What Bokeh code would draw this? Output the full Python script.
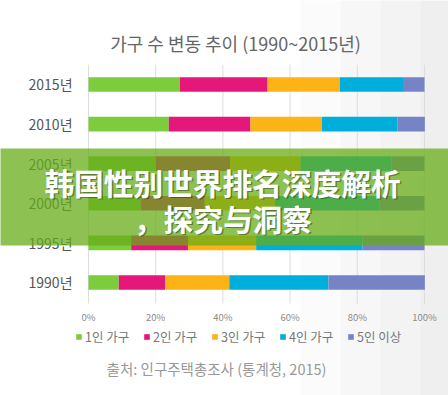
from bokeh.plotting import figure
from bokeh.models import (Range1d, Label, Legend, LegendItem, BoxAnnotation, ColumnDataSource)
from bokeh.core.properties import value
from bokeh.embed import file_html
from bokeh.resources import INLINE

# ---- data ----
years = ["1990년", "1995년", "2000년", "2005년", "2010년", "2015년"]
one_person = [9.0, 12.7, 15.5, 20.0, 23.9, 27.2]
two_person = [13.8, 16.9, 19.1, 22.2, 24.3, 26.1]
three_person = [19.1, 20.3, 20.9, 20.9, 21.3, 21.5]
four_person = [29.5, 31.7, 31.1, 27.0, 22.5, 18.8]
five_plus = [28.7, 18.4, 13.4, 9.9, 8.1, 6.4]
series_names = ["1인 가구", "2인 가구", "3인 가구", "4인 가구", "5인 이상"]
series_colors = ["#7ccc3c", "#e5177a", "#fbb315", "#00aedb", "#7683c4"]
x_ticks = [0, 20, 40, 60, 80, 100]
x_tick_labels = ["0%", "20%", "40%", "60%", "80%", "100%"]
title_text = "가구 수 변동 추이 (1990~2015년)"
source_text = "출처: 인구주택총조사 (통계청, 2015)"
banner_line1 = "韩国性别世界排名深度解析"
banner_line2 = "，探究与洞察"

KR = "Noto Sans CJK KR"
SC = "Noto Sans CJK SC"

pos = list(range(len(years)))  # row positions, bottom (1990) to top (2015)
keys = ["s1", "s2", "s3", "s4", "s5"]
src = ColumnDataSource(dict(pos=pos, year=years, s1=one_person, s2=two_person,
                            s3=three_person, s4=four_person, s5=five_plus))

p = figure(width=448, height=395, output_backend="svg", toolbar_location=None,
           x_range=Range1d(-26.19, 107.14), y_range=Range1d(-2.854, 7.121),
           x_axis_location=None, y_axis_location=None,
           min_border=0, min_border_left=0, min_border_right=0,
           min_border_top=0, min_border_bottom=0)
p.outline_line_color = None
p.background_fill_color = "white"
p.border_fill_color = "white"
p.grid.visible = False

# soft grey shading toward the right edge
for lx in [63.1, 75.0, 86.9, 98.8]:
    p.add_layout(BoxAnnotation(left=lx, right=120, top=10, bottom=-10, fill_color="black",
                               fill_alpha=0.016, line_color=None, level="underlay"))

# vertical grid lines at the x ticks
gsrc = ColumnDataSource(dict(x=x_ticks, y0=[-0.53] * len(x_ticks), y1=[5.5] * len(x_ticks),
                             lab=x_tick_labels, ly=[-0.884] * len(x_ticks)))
p.segment(x0="x", x1="x", y0="y0", y1="y1", source=gsrc, line_color="#dddddd", line_width=1)

renderers = p.hbar_stack(keys, y="pos", height=0.37, color=series_colors, source=src,
                         line_color=None)

# x tick labels
p.text(x="x", y="ly", text="lab", source=gsrc, text_align="center", text_baseline="middle",
       text_font=value(KR), text_font_size="9.5px", text_color="#8a8a8a")
# y category labels
lsrc = ColumnDataSource(dict(y=pos, t=years, x=[-4.76] * len(years)))
p.text(x="x", y="y", text="t", source=lsrc, text_align="right", text_baseline="middle",
       text_font=value(KR), text_font_size="14px", text_color="#555555")

# title
p.add_layout(Label(x=43.75, y=6.06, text=title_text, text_align="center", text_baseline="middle",
                   text_font=KR, text_font_size="18px", text_color="#666666"))
# source
p.add_layout(Label(x=38.1, y=-2.172, text=source_text, text_align="center", text_baseline="middle",
                   text_font=KR, text_font_size="14.5px", text_color="#999999"))

# legend
items = [LegendItem(label=n, renderers=[r]) for n, r in zip(series_names, renderers)]
legend = Legend(items=items, orientation="horizontal", location=(75, 49),
                glyph_width=7, glyph_height=7, label_standoff=3, label_width=55, spacing=3,
                label_height=14, padding=0, margin=0, border_line_color=None,
                background_fill_alpha=0, label_text_font=KR, label_text_font_size="12.5px",
                label_text_color="#777777")
p.add_layout(legend, "center")

# banner overlay
p.add_layout(BoxAnnotation(left=-40, right=120, top=3.384, bottom=0.934,
                           fill_color=(103, 172, 24), fill_alpha=0.75, line_color=None,
                           level="overlay"))
for txt, xx, yy in [(banner_line1, 39.88, 2.525), (banner_line2, 40.0, 1.616)]:
    p.add_layout(Label(x=xx, y=yy, text=txt, text_align="center", text_baseline="middle",
                       x_offset=1.5, y_offset=-1.5,
                       text_font=SC, text_font_size="29.7px", text_font_style="bold",
                       text_color="black", text_alpha=0.35, level="overlay"))
    p.add_layout(Label(x=xx, y=yy, text=txt, text_align="center", text_baseline="middle",
                       text_font=SC, text_font_size="29.7px", text_font_style="bold",
                       text_color="white", level="overlay"))

open("out.html", "w").write(file_html(p, INLINE))
